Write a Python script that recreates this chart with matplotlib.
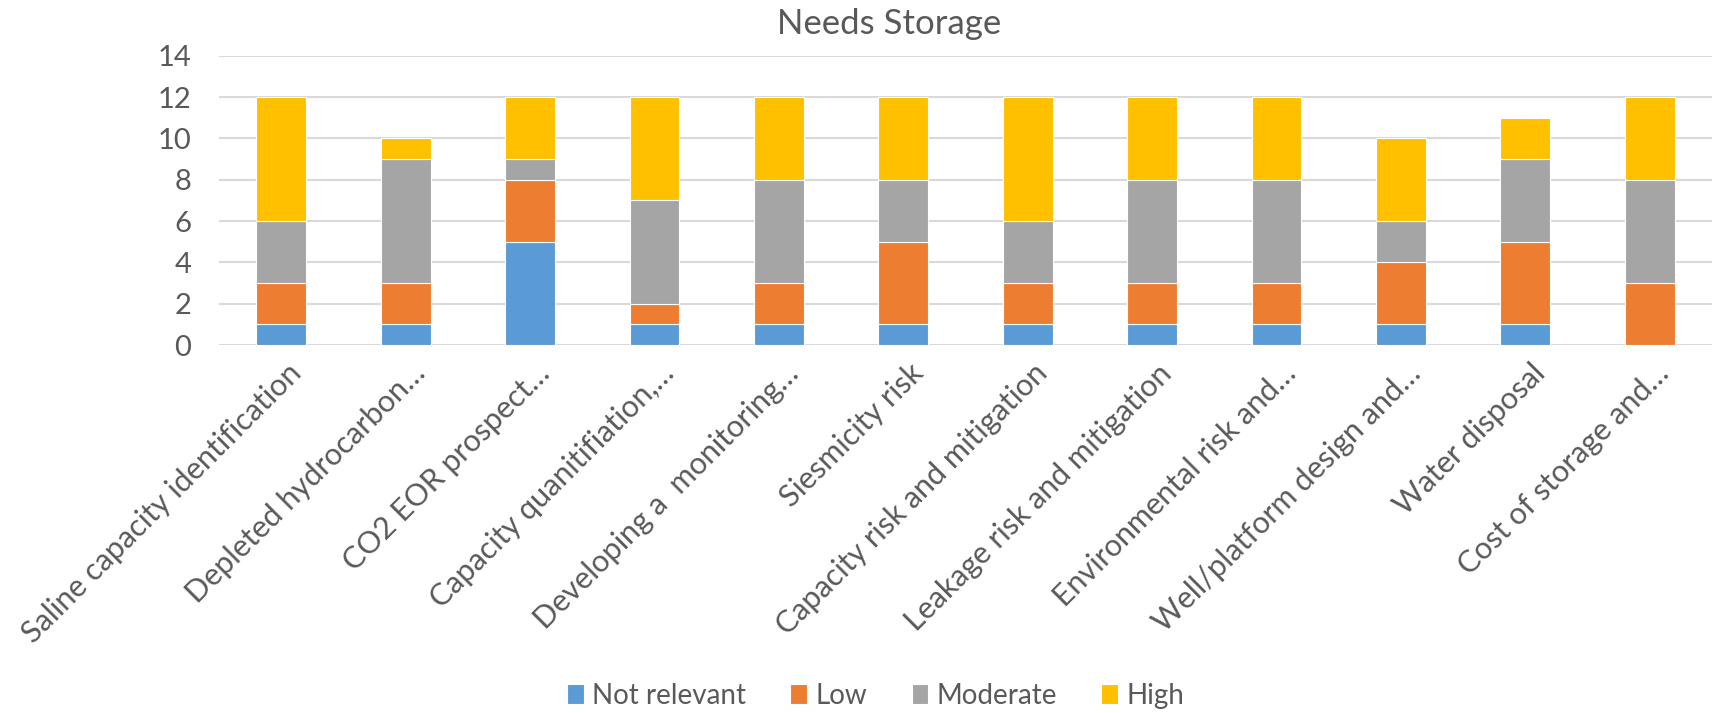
import matplotlib.pyplot as plt
import matplotlib.transforms as mtransforms
import numpy as np

# survey categories and counts per rating
categories = [
    'Saline capacity identification',
    'Depleted hydrocarbon…',
    'CO2 EOR prospect…',
    'Capacity quanitifiation,…',
    'Developing a  monitoring…',
    'Siesmicity risk',
    'Capacity risk and mitigation',
    'Leakage risk and mitigation',
    'Environmental risk and…',
    'Well/platform design and…',
    'Water disposal',
    'Cost of storage and…',
]
not_relevant = [1, 1, 5, 1, 1, 1, 1, 1, 1, 1, 1, 0]
low = [2, 2, 3, 1, 2, 4, 2, 2, 2, 3, 4, 3]
moderate = [3, 6, 1, 5, 5, 3, 3, 5, 5, 2, 4, 5]
high = [6, 1, 3, 5, 4, 4, 6, 4, 4, 4, 2, 4]

series = [
    ('Not relevant', not_relevant, '#5B9BD5'),
    ('Low', low, '#ED7D31'),
    ('Moderate', moderate, '#A5A5A5'),
    ('High', high, '#FFC000'),
]

TEXT = '#595959'
plt.rcParams['font.family'] = ['Lato', 'DejaVu Sans']

fig = plt.figure(figsize=(17.17, 7.13), dpi=100)
ax = fig.add_axes([0.1276, 0.516, 0.8694, 0.4057])

x = np.arange(len(categories))
bottom = np.zeros(len(categories))
for name, vals, color in series:
    ax.bar(x, vals, width=0.4, bottom=bottom, color=color, label=name,
           edgecolor='white', linewidth=0.8, zorder=3)
    bottom += np.array(vals)

ax.set_xlim(-0.5, len(categories) - 0.5)
ax.set_ylim(0, 14)
ax.set_yticks(range(0, 15, 2))
ax.yaxis.grid(True, color='#D9D9D9', linewidth=1.5, zorder=0)
for s in ax.spines.values():
    s.set_visible(False)
ax.tick_params(axis='both', length=0, colors=TEXT)
ax.tick_params(axis='y', pad=20, labelsize=21)
ax.set_xticks(x)
ax.set_xticklabels(categories, rotation=45, ha='right', va='center',
                   rotation_mode='anchor', fontsize=22, color=TEXT)
ax.tick_params(axis='x', pad=17)

# nudge the slanted labels a little to the right
shift = mtransforms.ScaledTranslation(0.15, 0, fig.dpi_scale_trans)
for lbl in ax.get_xticklabels():
    lbl.set_transform(lbl.get_transform() + shift)

fig.text(0.518, 0.966, 'Needs Storage', ha='center', va='center',
         fontsize=25, color=TEXT)

fig.legend(loc='center', bbox_to_anchor=(0.51, 0.024), ncol=4, frameon=False,
           fontsize=20, labelcolor=TEXT, handlelength=0.6, handleheight=0.7,
           handletextpad=0.3, columnspacing=1.6)

fig.savefig('out.png', dpi=100)
